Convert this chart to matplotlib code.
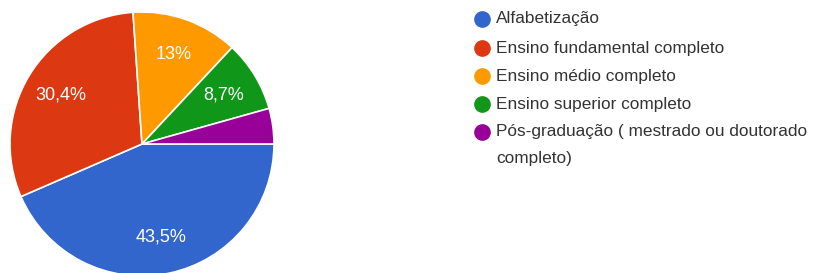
import matplotlib
matplotlib.use("Agg")
import matplotlib.pyplot as plt
from matplotlib.lines import Line2D

categories = ["Alfabetização", "Ensino fundamental completo", "Ensino médio completo",
              "Ensino superior completo", "Pós-graduação ( mestrado ou doutorado\ncompleto)"]
counts = [10, 7, 3, 2, 1]
colors = ["#3366cc", "#dc3912", "#ff9900", "#109618", "#990099"]

plt.rcParams['font.family'] = ['Liberation Sans', 'DejaVu Sans']

W, H = 814, 273
fig = plt.figure(figsize=(W / 100, H / 100), dpi=100)

# pie axes: center (142,144) px from top, radius 132 px
cx, cy, r = 142, 144, 132
ax = fig.add_axes([(cx - r) / W, (H - cy - r) / H, 2 * r / W, 2 * r / H])

def fmt(p):
    if p < 5:
        return ""
    s = f"{p:.1f}".rstrip("0").rstrip(".")
    return s.replace(".", ",") + "%"

wedges, texts, autotexts = ax.pie(counts, colors=colors, startangle=0, counterclock=False,
                                  autopct=fmt, pctdistance=0.72,
                                  wedgeprops=dict(edgecolor="white", linewidth=1.2),
                                  textprops=dict(color="white", fontsize=13))
ax.set_xlim(-1, 1)
ax.set_ylim(-1, 1)
ax.set_aspect("equal")
ax.axis("off")

# legend drawn manually
x_marker, x_text = 482, 496
y_rows = [19, 48, 76, 104, 132]
fs = 12.4
for lab, col, y in zip(categories, colors, y_rows):
    fig.add_artist(Line2D([x_marker / W], [(H - y) / H], marker="o", markersize=11,
                          color=col, linestyle="none", transform=fig.transFigure))
    for i, ln in enumerate(lab.split("\n")):
        fig.text(x_text / W, (H - y - i * 26) / H, ln, fontsize=fs, color="#333333",
                 va="center")

fig.savefig("out.png", dpi=100, facecolor="white")
